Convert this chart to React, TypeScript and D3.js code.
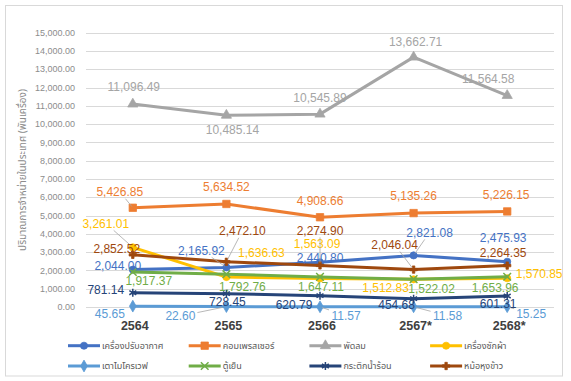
import React from "react";
import * as d3 from "d3";

const categories = ["2564", "2565", "2566", "2567*", "2568*"];
const seriesNames = [
  "เครื่องปรับอากาศ",
  "คอมเพรสเซอร์",
  "พัดลม",
  "เครื่องซักผ้า",
  "เตาไมโครเวฟ",
  "ตู้เย็น",
  "กระติกน้ำร้อน",
  "หม้อหุงข้าว",
];
const airCon = [2044.0, 2165.92, 2440.8, 2821.08, 2475.93];
const compressor = [5426.85, 5634.52, 4908.66, 5135.26, 5226.15];
const fan = [11096.49, 10485.14, 10545.89, 13662.71, 11564.58];
const washer = [3261.01, 1636.63, 1563.09, 1512.83, 1570.85];
const microwave = [45.65, 22.6, 11.57, 11.58, 15.25];
const fridge = [1917.37, 1792.76, 1647.11, 1522.02, 1653.96];
const kettle = [781.14, 728.45, 620.79, 454.68, 601.31];
const riceCooker = [2852.52, 2472.1, 2274.9, 2046.04, 2264.35];
const seriesValues = [airCon, compressor, fan, washer, microwave, fridge, kettle, riceCooker];
const yTicks = [0, 1000, 2000, 3000, 4000, 5000, 6000, 7000, 8000, 9000, 10000, 11000, 12000, 13000, 14000, 15000];
const yTitle = "ปริมาณการจำหน่ายในประเทศ (พันเครื่อง)";

// styling / layout (not data)
const colors = ["#4472C4", "#ED7D31", "#A5A5A5", "#FFC000", "#5B9BD5", "#70AD47", "#264478", "#9E480E"];
const markers = ["circle", "square", "triangle", "circle", "diamond", "times", "asterisk", "cross"];
// label offsets [dx, dy, leader]
const labelOffsets: [number, number, number][][] = [
  [[-15, -4, 0], [-25, -17, 1], [0, -5, 0], [16, -23, 1], [-4, -23.5, 0]],
  [[-13, -16, 1], [0, -17, 0], [0, -16.5, 0], [0, -17, 0], [-1, -16.5, 0]],
  [[1, -17, 0], [6, 15, 0], [0, -16, 0], [2, -15.5, 0], [-19, -17, 0]],
  [[-27, -24, 1], [35, -24, 0], [-3, -35, 0], [-28, 8, 0], [32, -4, 0]],
  [[-23, 8, 0], [-46, 9.5, 1], [26, 9, 1], [34, 9, 1], [24, 7, 1]],
  [[16, 9, 0], [16, 12.5, 0], [1, 10, 0], [18, 10, 0], [-12, 11.5, 0]],
  [[-27, -3, 0], [1, 8, 0], [-26, 9, 0], [-17, 6, 0], [-9, 8, 0]],
  [[-16, -6.5, 0], [16, -31, 1], [0, -35, 1], [-19, -25, 1], [-4, -12.5, 0]],
];

const W = 571;
const H = 381;
const FONT = "'Liberation Sans', Arial, 'Noto Sans', sans-serif";

function symbolPath(kind: string): { d: string; filled: boolean } {
  let type: any = d3.symbolCircle;
  let size = 40;
  let filled = true;
  if (kind === "square") { type = d3.symbolSquare; size = 55; }
  else if (kind === "triangle") { type = d3.symbolTriangle; size = 45; }
  else if (kind === "diamond") { type = d3.symbolDiamond; size = 40; }
  else if (kind === "times") { type = d3.symbolTimes; size = 40; filled = false; }
  else if (kind === "asterisk") { type = d3.symbolAsterisk; size = 45; filled = false; }
  else if (kind === "cross") { type = d3.symbolCross; size = 30; }
  return { d: d3.symbol().type(type).size(size)() as string, filled };
}

function fmt(v: number) {
  return d3.format(",.2f")(v);
}

export default function App() {
  const x = d3.scaleBand<string>().domain(categories).range([86, 554]).padding(0);
  const cx = (c: string) => (x(c) as number) + x.bandwidth() / 2;
  const y = d3.scaleLinear().domain([0, 15000]).range([307, 32.7]);
  const line = d3
    .line<number>()
    .x((_, i) => cx(categories[i]))
    .y((v) => y(v));

  const legendCols = 4;
  return (
    <svg
      width={W}
      height={H}
      style={{ position: "absolute", left: 0, top: 0, background: "#fff" }}
      fontFamily={FONT}
    >
      <rect x={5.5} y={5.5} width={557} height={370.5} fill="#fff" stroke="#d9d9d9" />
      {yTicks.map((t) => (
        <g key={t}>
          <line x1={86} x2={554} y1={Math.round(y(t)) + 0.5} y2={Math.round(y(t)) + 0.5} stroke="#d9d9d9" />
          <text x={75} y={y(t)} dy="0.35em" textAnchor="end" fontSize={9} fill="#8c8c8c">
            {fmt(t)}
          </text>
        </g>
      ))}
      <text
        transform="translate(22,170) rotate(-90)"
        textAnchor="middle"
        dy="0.35em"
        fontSize={10}
        fill="#8c8c8c"
        fontFamily="'Noto Sans Thai', 'Noto Sans', sans-serif"
      >
        {yTitle}
      </text>
      {categories.map((c) => (
        <text key={c} x={cx(c) + 2} y={330} textAnchor="middle" fontSize={12.5} fontWeight="bold" fill="#404040">
          {c}
        </text>
      ))}
      {seriesValues.map((vals, si) => {
        const m = symbolPath(markers[si]);
        return (
          <g key={si}>
            <path d={line(vals) as string} fill="none" stroke={colors[si]} strokeWidth={3} strokeLinejoin="round" strokeLinecap="round" />
            {vals.map((v, i) => (
              <path
                key={i}
                d={m.d}
                transform={`translate(${cx(categories[i])},${y(v)})`}
                fill={m.filled ? colors[si] : "none"}
                stroke={colors[si]}
                strokeWidth={m.filled ? 0.75 : 1.5}
              />
            ))}
          </g>
        );
      })}
      {seriesValues.map((vals, si) =>
        vals.map((v, i) => {
          const [dx, dy, leader] = labelOffsets[si][i];
          const px = cx(categories[i]);
          const py = y(v);
          const lx = px + dx;
          const ly = py + dy;
          const text = fmt(v);
          const hw = text.length * 3.2 + 1;
          const hh = 7;
          let leaderEl = null;
          if (leader) {
            const ddx = px - lx;
            const ddy = py - ly;
            const t = Math.min(hw / Math.abs(ddx || 1e-6), hh / Math.abs(ddy || 1e-6));
            const sx = lx + ddx * t;
            const sy = ly + ddy * t;
            leaderEl = <line x1={sx} y1={sy} x2={px - ddx * 0.08} y2={py - ddy * 0.08} stroke="#a6a6a6" strokeWidth={0.8} />;
          }
          return (
            <g key={`${si}-${i}`}>
              {leaderEl}
              <text x={lx} y={ly} dy="0.35em" textAnchor="middle" fontSize={12} fill={colors[si]}>
                {text}
              </text>
            </g>
          );
        })
      )}
      {seriesNames.map((name, si) => {
        const col = si % legendCols;
        const row = Math.floor(si / legendCols);
        const lx = 68 + col * 120.7;
        const ly = 345.7 + row * 20.3;
        const m = symbolPath(markers[si]);
        return (
          <g key={name}>
            <line x1={lx} x2={lx + 32} y1={ly} y2={ly} stroke={colors[si]} strokeWidth={3} />
            <path
              d={m.d}
              transform={`translate(${lx + 16},${ly})`}
              fill={m.filled ? colors[si] : "none"}
              stroke={colors[si]}
              strokeWidth={m.filled ? 0.75 : 1.5}
            />
            <text
              x={lx + 34}
              y={ly}
              dy="0.35em"
              fontSize={9}
              fill="#595959"
              fontFamily="'Noto Sans Thai', 'Noto Sans', sans-serif"
            >
              {name}
            </text>
          </g>
        );
      })}
    </svg>
  );
}
